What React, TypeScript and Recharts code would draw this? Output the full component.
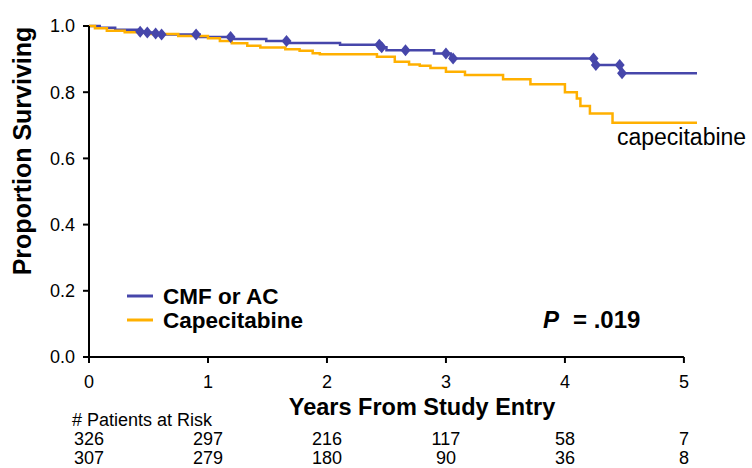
import React from "react";
import {
  ComposedChart,
  Line,
  Scatter,
  XAxis,
  YAxis,
  ReferenceLine,
} from "recharts";

// Kaplan-Meier steps (years, proportion surviving)
const cmfTime = [0, 0.09, 0.22, 0.42, 0.5, 0.56, 0.6, 0.93, 1.2, 1.49, 1.67, 2.11, 2.45, 2.5, 2.9, 3.04, 4.25, 4.47, 5.11];
const cmfSurv = [1.0, 0.995, 0.989, 0.983, 0.98, 0.977, 0.974, 0.967, 0.961, 0.955, 0.949, 0.943, 0.936, 0.927, 0.917, 0.902, 0.882, 0.857, 0.857];

const capeTime = [0, 0.05, 0.15, 0.3, 0.5, 0.75, 1.0, 1.1, 1.2, 1.33, 1.44, 1.65, 1.77, 1.88, 1.94, 2.42, 2.57, 2.69, 2.78, 2.87, 3.0, 3.16, 3.48, 3.71, 4.0, 4.1, 4.13, 4.21, 4.4, 5.11];
const capeSurv = [1.0, 0.993, 0.986, 0.981, 0.976, 0.97, 0.963, 0.955, 0.948, 0.94, 0.935, 0.93, 0.925, 0.918, 0.915, 0.907, 0.892, 0.884, 0.88, 0.873, 0.862, 0.852, 0.839, 0.824, 0.8, 0.781, 0.758, 0.736, 0.708, 0.708];

// censor marks on the CMF/AC curve
const censorTime = [0.43, 0.49, 0.56, 0.61, 0.9, 1.19, 1.66, 2.44, 2.46, 2.66, 3.0, 3.06, 4.24, 4.26, 4.46, 4.48];
const censorSurv = [0.983, 0.98, 0.977, 0.974, 0.974, 0.967, 0.955, 0.943, 0.936, 0.927, 0.917, 0.902, 0.902, 0.882, 0.882, 0.857];

const xTicks = [0, 1, 2, 3, 4, 5];
const yTicks = [0, 0.2, 0.4, 0.6, 0.8, 1.0];
const atRiskCmf = [326, 297, 216, 117, 58, 7];
const atRiskCape = [307, 279, 180, 90, 36, 8];

const seriesNames = ["CMF or AC", "Capecitabine"];

const BLUE = "#4646aa";
const ORANGE = "#ffb000";
const seriesColors = [BLUE, ORANGE];
const FONT = '"Liberation Sans", Arial, Helvetica, sans-serif';

const cmfData = cmfTime.map((t, i) => ({ t, s: cmfSurv[i] }));
const capeData = capeTime.map((t, i) => ({ t, s: capeSurv[i] }));
const censorData = censorTime.map((t, i) => ({ t, s: censorSurv[i] }));

function XTick(props: any) {
  const { x, y, payload } = props;
  const i = xTicks.indexOf(payload.value);
  const base = y - 8; // axis line
  return (
    <g fontFamily={FONT} fontSize={18} fill="#000">
      <text x={x} y={base + 31} textAnchor="middle">{payload.value}</text>
      <text x={x} y={base + 88} textAnchor="middle">{atRiskCmf[i]}</text>
      <text x={x} y={base + 107} textAnchor="middle">{atRiskCape[i]}</text>
    </g>
  );
}

function Diamond(props: any) {
  const { cx, cy } = props;
  if (cx == null || cy == null) return null;
  return <polygon points={`${cx},${cy - 6} ${cx + 5},${cy} ${cx},${cy + 6} ${cx - 5},${cy}`} fill={BLUE} />;
}

export default function App() {
  return (
    <div style={{ position: "relative", width: 752, height: 468, background: "#fff" }}>
      <style>{`body{margin:0}`}</style>
      <ComposedChart
        width={752}
        height={468}
        margin={{ top: 26, right: 55, bottom: 11, left: 0 }}
      >
        <XAxis
          dataKey="t"
          type="number"
          domain={[0, 5.1]}
          ticks={xTicks}
          axisLine={false}
          tickSize={6}
          tickLine={{ stroke: "#000", strokeWidth: 2 }}
          height={100}
          tick={<XTick />}
          interval={0}
        />
        <YAxis
          dataKey="s"
          type="number"
          domain={[0, 1]}
          ticks={yTicks}
          width={89}
          tickSize={6}
          tickMargin={8}
          axisLine={{ stroke: "#000", strokeWidth: 2 }}
          tickLine={{ stroke: "#000", strokeWidth: 2 }}
          tickFormatter={(v: number) => v.toFixed(1)}
          tick={{ fill: "#000", fontSize: 18, fontFamily: FONT }}
        />
        <ReferenceLine
          segment={[{ x: 0, y: 0 }, { x: 5, y: 0 }]}
          stroke="#000"
          strokeWidth={2}
        />
        <Line
          data={cmfData}
          dataKey="s"
          name={seriesNames[0]}
          type="stepAfter"
          stroke={BLUE}
          strokeWidth={2.5}
          dot={false}
          isAnimationActive={false}
        />
        <Line
          data={capeData}
          dataKey="s"
          name={seriesNames[1]}
          type="stepAfter"
          stroke={ORANGE}
          strokeWidth={2.5}
          dot={false}
          isAnimationActive={false}
        />
        <Scatter
          data={censorData}
          dataKey="s"
          legendType="none"
          shape={<Diamond />}
          isAnimationActive={false}
        />
      </ComposedChart>
      <svg
        width={752}
        height={468}
        style={{ position: "absolute", left: 0, top: 0, pointerEvents: "none" }}
        fontFamily={FONT}
      >
        <text transform="translate(31,151) rotate(-90)" textAnchor="middle" fontWeight="bold" fontSize={25}>
          Proportion Surviving
        </text>
        <text x={422} y={415} textAnchor="middle" fontWeight="bold" fontSize={23.5}>
          Years From Study Entry
        </text>
        <text x={72} y={426} fontSize={18}># Patients at Risk</text>
        <text x={617} y={145} fontSize={23}>capecitabine</text>
        {seriesNames.map((n, i) => (
          <g key={n}>
            <line x1={127} x2={153} y1={296 + i * 24} y2={296 + i * 24} stroke={seriesColors[i]} strokeWidth={3} />
            <text x={163} y={304 + i * 24} fontWeight="bold" fontSize={22.5}>{n}</text>
          </g>
        ))}
        <text x={543} y={328} fontWeight="bold" fontSize={24} fontStyle="italic">P</text>
        <text x={573} y={328} fontWeight="bold" fontSize={24}>= .019</text>
      </svg>
    </div>
  );
}
